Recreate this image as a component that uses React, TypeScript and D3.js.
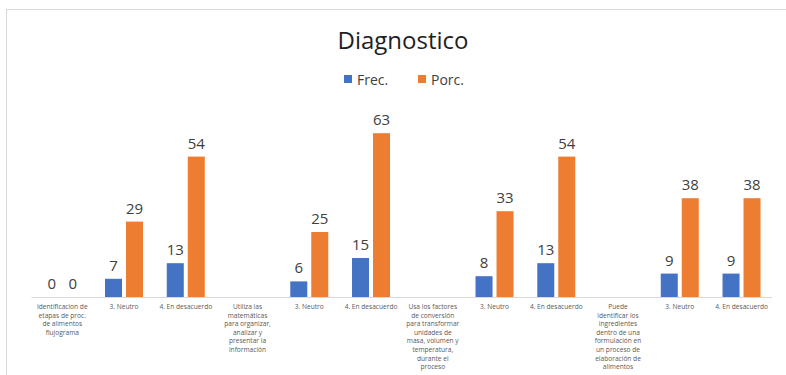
import React, { useEffect, useRef } from 'react';
import * as d3 from 'd3';

const categories = [
  'Identificacion de\netapas de proc.\nde alimentos\nflujograma',
  '3. Neutro',
  '4. En desacuerdo',
  'Utiliza las\nmatemáticas\npara organizar,\nanalizar y\npresentar la\ninformación',
  '3. Neutro',
  '4. En desacuerdo',
  'Usa los factores\nde conversión\npara transformar\nunidades de\nmasa, volumen y\ntemperatura,\ndurante el\nproceso',
  '3. Neutro',
  '4. En desacuerdo',
  'Puede\nidentificar los\ningredientes\ndentro de una\nformulación en\nun proceso de\nelaboración de\nalimentos',
  '3. Neutro',
  '4. En desacuerdo',
];

const frec: (number | null)[] = [0, 7, 13, null, 6, 15, null, 8, 13, null, 9, 9];
const porc: (number | null)[] = [0, 29, 54, null, 25, 63, null, 33, 54, null, 38, 38];

const seriesNames = ['Frec.', 'Porc.'];
const seriesColors = ['#4472C4', '#ED7D31'];

const WIDTH = 786;
const HEIGHT = 375;

const App: React.FC = () => {
  const svgRef = useRef<SVGSVGElement>(null);

  useEffect(() => {
    if (!svgRef.current) return;
    const svg = d3.select(svgRef.current);
    svg.selectAll('*').remove();

    const font = '"Open Sans", "DejaVu Sans", sans-serif';
    const left = 31.4;
    const right = 772.4;
    const baseY = 297;
    const topY = 115;

    // chart frame (cut off at right / bottom like the screenshot)
    svg.append('rect')
      .attr('x', 6.5).attr('y', 9.5)
      .attr('width', 820).attr('height', 420)
      .attr('fill', '#fff')
      .attr('stroke', '#d9d9d9');

    const x0 = d3.scaleBand<number>()
      .domain(categories.map((_, i) => i))
      .range([left, right]);

    const groupW = 38;
    const x1 = d3.scaleBand<number>()
      .domain([0, 1])
      .range([(x0.bandwidth() - groupW) / 2, (x0.bandwidth() + groupW) / 2])
      .paddingInner(0.19);

    const y = d3.scaleLinear().domain([0, 70]).range([baseY, topY]);

    // Title
    svg.append('text')
      .attr('x', 403).attr('y', 49)
      .attr('text-anchor', 'middle')
      .attr('font-family', font)
      .attr('font-size', 24)
      .attr('font-weight', 500)
      .attr('fill', '#1f1f1f')
      .text('Diagnostico');

    // Legend
    const legendX = [344, 418];
    seriesNames.forEach((name, i) => {
      svg.append('rect')
        .attr('x', legendX[i]).attr('y', 75)
        .attr('width', 8).attr('height', 8)
        .attr('fill', seriesColors[i]);
      svg.append('text')
        .attr('x', legendX[i] + 13).attr('y', 84.5)
        .attr('font-family', font)
        .attr('font-size', 14)
        .attr('fill', '#404040')
        .text(name);
    });

    const g = svg.append('g');
    const series = [frec, porc];

    series.forEach((vals, s) => {
      vals.forEach((v, i) => {
        if (v === null) return;
        const bx = (x0(i) ?? 0) + (x1(s) ?? 0);
        g.append('rect')
          .attr('x', bx).attr('y', y(v))
          .attr('width', x1.bandwidth())
          .attr('height', baseY - y(v))
          .attr('fill', seriesColors[s]);
        g.append('text')
          .attr('x', bx + x1.bandwidth() / 2)
          .attr('y', y(v) - 8)
          .attr('text-anchor', 'middle')
          .attr('font-family', font)
          .attr('font-size', 15)
          .attr('font-weight', 500)
          .attr('fill', '#404040')
          .text(String(v));
      });
    });

    // axis line
    g.append('line')
      .attr('x1', left).attr('x2', right)
      .attr('y1', baseY + 0.5).attr('y2', baseY + 0.5)
      .attr('stroke', '#d9d9d9');

    // category labels
    categories.forEach((c, i) => {
      const t = g.append('text')
        .attr('text-anchor', 'middle')
        .attr('font-family', font)
        .attr('font-size', 6.6)
        .attr('fill', '#595959');
      c.split('\n').forEach((line, k) => {
        t.append('tspan')
          .attr('x', (x0(i) ?? 0) + x0.bandwidth() / 2)
          .attr('y', 309 + k * 8.6)
          .text(line);
      });
    });
  }, []);

  return (
    <svg
      ref={svgRef}
      width={WIDTH}
      height={HEIGHT}
      style={{ position: 'absolute', left: 0, top: 0, background: '#fff' }}
    />
  );
};

export default App;
